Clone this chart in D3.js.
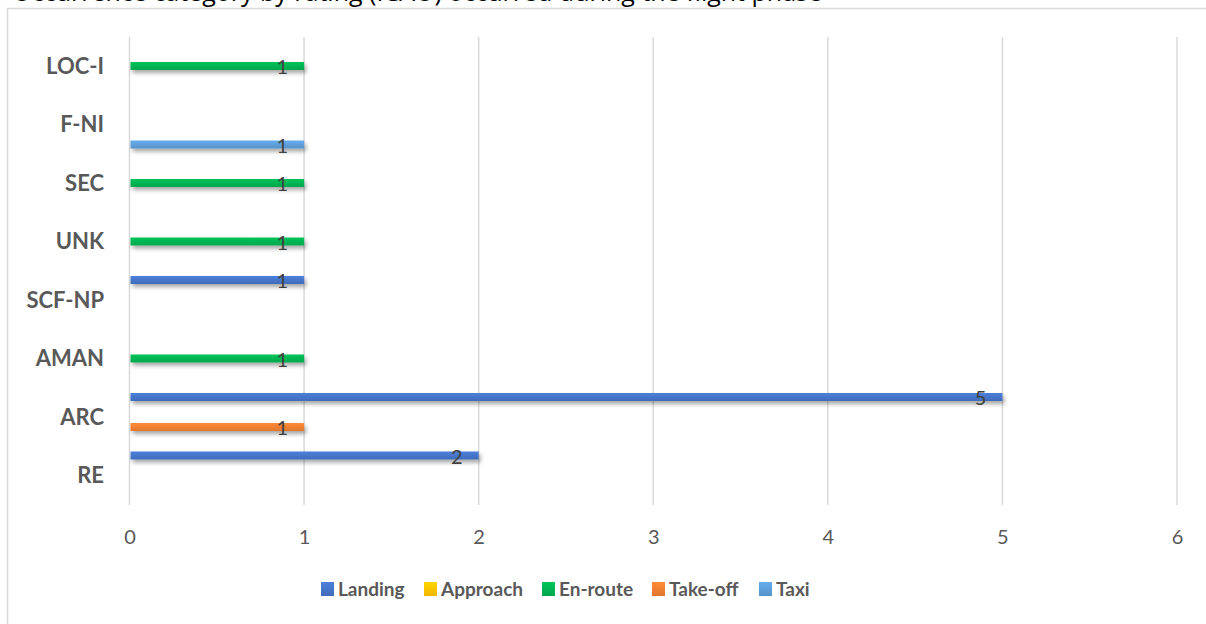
<!DOCTYPE html>
<html><head><meta charset="utf-8">
<script src="https://cdn.jsdelivr.net/npm/d3@7"></script>
<style>
html,body{margin:0;padding:0;background:#fff;overflow:hidden;}
svg{display:block;}
</style></head>
<body>
<svg id="chart" width="1206" height="624"></svg>
<script>
const categories = ["LOC-I","F-NI","SEC","UNK","SCF-NP","AMAN","ARC","RE"];
const seriesNames = ["Landing","Approach","En-route","Take-off","Taxi"];
const seriesColors = ["#4472C4","#FFC000","#00B050","#ED7D31","#5B9BD5"];
const landing  = [0,0,0,0,1,0,5,2];
const approach = [0,0,0,0,0,0,0,0];
const enroute  = [1,0,1,1,0,1,0,0];
const takeoff  = [0,0,0,0,0,0,1,0];
const taxi     = [0,1,0,0,0,0,0,0];
const xTicks = [0,1,2,3,4,5,6];
const titleText = "Occurrence category by rating (ICAO) occurred during the flight phase";

const seriesValues = [landing, approach, enroute, takeoff, taxi];

const svg = d3.select("#chart");
const defs = svg.append("defs");
const f = defs.append("filter").attr("id","shadow").attr("x","-5%").attr("y","-100%").attr("width","110%").attr("height","400%");
f.append("feDropShadow").attr("dx",2).attr("dy",3).attr("stdDeviation",2).attr("flood-color","#000").attr("flood-opacity",0.35);
seriesColors.forEach((c,i)=>{
  const g = defs.append("linearGradient").attr("id","grad"+i).attr("x1",0).attr("y1",0).attr("x2",0).attr("y2",1);
  g.append("stop").attr("offset","0%").attr("stop-color",d3.color(c).brighter(0.3));
  g.append("stop").attr("offset","100%").attr("stop-color",d3.color(c).darker(0.15));
});

// clipped title at top (the reference shows only its lower edge)
svg.append("text").attr("x",822).attr("y",1).attr("text-anchor","end")
  .attr("font-family","Open Sans, Liberation Sans, sans-serif")
  .attr("font-size",25).attr("fill","#000").text(titleText);

// chart frame
svg.append("rect").attr("x",7.5).attr("y",8.5).attr("width",1210).attr("height",630)
  .attr("fill","#fff").attr("stroke","#d9d9d9").attr("stroke-width",1.5);

const x = d3.scaleLinear().domain([0,6]).range([129.5,1177]);
const y = d3.scaleBand().domain(categories).range([37,505]).paddingInner(0).paddingOuter(0);
const ys = d3.scaleBand().domain(seriesNames).range([4,54]).paddingInner(0.2).paddingOuter(0.1);

// gridlines
svg.append("g").selectAll("line").data(xTicks).join("line")
  .attr("x1",d=>x(d)).attr("x2",d=>x(d)).attr("y1",37).attr("y2",505)
  .attr("stroke","#d9d9d9").attr("stroke-width",1.5);

// x axis labels
const xAxis = d3.axisBottom(x).tickValues(xTicks).tickSize(0).tickPadding(0).tickFormat(d3.format("d"));
const xg = svg.append("g").attr("transform","translate(0,537)").call(xAxis);
xg.select(".domain").remove();
xg.selectAll("text").attr("font-family","Lato, Open Sans, sans-serif").attr("font-size",20).attr("fill","#595959").attr("dy","0.35em");

// y axis labels
const yAxis = d3.axisLeft(y).tickSize(0).tickPadding(0);
const yg = svg.append("g").attr("transform","translate(104,0)").call(yAxis);
yg.select(".domain").remove();
yg.selectAll("text").attr("font-family","Lato, Open Sans, sans-serif").attr("font-weight","bold").attr("font-size",22).attr("fill","#595959").attr("dy","0.35em");

// bars
const bars = [];
seriesValues.forEach((vals,si)=>{
  vals.forEach((v,ci)=>{ if(v>0) bars.push({s:si,c:categories[ci],v:v}); });
});
const barH = 8;
const bg = svg.append("g");
bg.selectAll("rect").data(bars).join("rect")
  .attr("x",x(0)+1)
  .attr("y",d=>y(d.c)+ys(seriesNames[d.s])+ys.bandwidth()/2-barH/2)
  .attr("width",d=>x(d.v)-x(0)-1)
  .attr("height",barH)
  .attr("fill",d=>"url(#grad"+d.s+")")
  .attr("filter","url(#shadow)");

// data labels
bg.selectAll("text").data(bars).join("text")
  .attr("x",d=>x(d.v)-16)
  .attr("y",d=>y(d.c)+ys(seriesNames[d.s])+ys.bandwidth()/2+1)
  .attr("dy","0.36em")
  .attr("text-anchor","end")
  .attr("font-family","Lato, Open Sans, sans-serif").attr("font-size",20).attr("fill","#404040")
  .text(d=>d.v);

// legend
const legendX = [321,424,542,652,759];
const lg = svg.append("g");
seriesNames.forEach((n,i)=>{
  lg.append("rect").attr("x",legendX[i]).attr("y",582).attr("width",13).attr("height",14).attr("fill","url(#grad"+i+")");
  lg.append("text").attr("x",legendX[i]+17).attr("y",589).attr("dy","0.35em")
    .attr("font-family","Lato, Open Sans, sans-serif").attr("font-weight","bold").attr("font-size",19).attr("fill","#595959").text(n);
});
</script>
</body></html>
